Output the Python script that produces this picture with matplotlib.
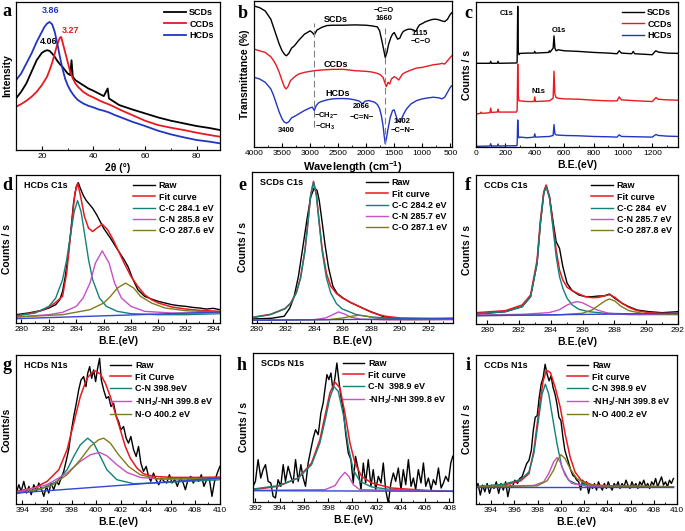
import matplotlib
matplotlib.use("Agg")
import matplotlib.pyplot as plt
from matplotlib.ticker import MultipleLocator

plt.rcParams['font.family'] = ['Liberation Sans', 'DejaVu Sans']
plt.rcParams['mathtext.fontset'] = 'custom'
plt.rcParams['mathtext.rm'] = 'Liberation Sans'
plt.rcParams['mathtext.bf'] = 'Liberation Sans:bold'
plt.rcParams['mathtext.default'] = 'bf'

# ---------------- data ----------------
# (a) XRD
a_x_scd = [10, 12, 14, 16, 18, 20, 21, 22, 23, 24, 25, 26, 27, 28, 29, 30, 31, 31.5, 32, 33, 34, 36, 38, 40, 42, 44, 45.5, 46, 48, 50, 55, 60, 65, 70, 75, 80, 85, 89]
a_y_scd = [155, 175, 200, 235, 270, 292, 297, 300, 298, 290, 280, 268, 258, 250, 240, 230, 225, 270, 220, 210, 205, 195, 185, 178, 170, 162, 185, 155, 145, 135, 122, 110, 98, 88, 80, 72, 66, 60]
a_x_ccd = [10, 12, 14, 16, 18, 20, 22, 23, 24, 25, 26, 27, 27.5, 28, 29, 30, 31, 32, 33, 34, 36, 38, 40, 42, 44, 46, 48, 50, 55, 60, 65, 70, 75, 80, 85, 89]
a_y_ccd = [130, 138, 148, 160, 175, 195, 220, 240, 262, 290, 318, 338, 340, 325, 295, 265, 235, 215, 200, 190, 175, 165, 158, 150, 143, 137, 130, 122, 105, 88, 75, 67, 60, 52, 45, 40]
a_x_hcd = [10, 12, 14, 16, 18, 20, 21, 22, 23, 24, 25, 26, 27, 28, 29, 30, 31, 32, 33, 34, 36, 38, 40, 42, 44, 46, 48, 50, 55, 60, 65, 70, 75, 80, 85, 89]
a_y_hcd = [210, 230, 260, 290, 325, 355, 370, 380, 385, 378, 355, 320, 280, 245, 215, 195, 180, 168, 158, 150, 140, 133, 128, 122, 118, 113, 106, 100, 85, 72, 58, 47, 38, 30, 25, 20]

# (b) FTIR
b_x_scd = [4000, 3900, 3800, 3700, 3650, 3600, 3550, 3500, 3450, 3420, 3380, 3330, 3280, 3200, 3100, 3000, 2960, 2925, 2880, 2850,
           2800, 2700, 2600, 2400, 2200, 2000, 1900, 1800, 1760, 1720, 1690, 1660, 1630, 1600, 1560, 1530, 1500, 1470, 1440, 1400,
           1370, 1340, 1300, 1250, 1200, 1150, 1115, 1080, 1050, 1000, 950, 900, 850, 800, 750, 700, 650, 600, 550, 500, 470]
b_y_scd = [425, 420, 410, 385, 360, 335, 310, 290, 278, 275, 282, 298, 305, 322, 340, 350, 345, 338, 352, 355,
           360, 366, 367, 367, 368, 367, 365, 362, 350, 320, 295, 270, 285, 310, 330, 340, 345, 335, 325, 328,
           340, 348, 352, 355, 355, 352, 348, 360, 368, 372, 377, 380, 383, 385, 385, 383, 380, 378, 385, 400, 405]
b_x_ccd = [4000, 3900, 3800, 3700, 3650, 3600, 3550, 3500, 3460, 3430, 3400, 3350, 3300, 3250, 3200, 3100, 3000, 2925, 2800, 2600,
           2400, 2200, 2000, 1900, 1800, 1750, 1700, 1670, 1640, 1610, 1580, 1550, 1500, 1460, 1420, 1390, 1350, 1300, 1200, 1100,
           1000, 900, 800, 700, 650, 600, 550, 500, 470]
b_y_ccd = [295, 290, 285, 272, 260, 245, 225, 200, 182, 175, 180, 200, 208, 215, 220, 225, 228, 230, 232, 234,
           234, 230, 228, 226, 222, 218, 210, 195, 182, 195, 190, 205, 212, 208, 202, 210, 220, 225, 232, 238,
           240, 244, 248, 250, 252, 250, 260, 270, 275]
b_x_hcd = [4000, 3900, 3800, 3700, 3650, 3600, 3550, 3500, 3460, 3420, 3380, 3330, 3280, 3200, 3100, 3000, 2960, 2925, 2890, 2850,
           2800, 2700, 2600, 2500, 2400, 2300, 2200, 2120, 2066, 2020, 1950, 1850, 1800, 1760, 1730, 1700, 1680, 1660, 1640, 1610,
           1570, 1530, 1500, 1470, 1440, 1402, 1370, 1330, 1280, 1200, 1100, 1000, 900, 800, 700, 650, 600, 550, 500, 470]
b_y_hcd = [210, 205, 195, 175, 155, 130, 105, 85, 75, 72, 76, 88, 92, 100, 110, 118, 120, 110, 125, 133,
           137, 142, 145, 146, 146, 145, 142, 138, 130, 138, 140, 135, 128, 115, 95, 65, 35, 10, 25, 55,
           90, 110, 112, 95, 80, 75, 85, 100, 115, 130, 140, 145, 148, 150, 148, 145, 150, 165, 180, 185]

# (c) XPS survey
c_x_scd = [0, 95, 100, 105, 145, 150, 155, 275, 280, 284, 288, 292, 300, 350, 395, 400, 405, 495, 500, 505,
           525, 531, 537, 545, 560, 600, 700, 800, 900, 960, 975, 990, 1060, 1070, 1080, 1200, 1215, 1225, 1240, 1300, 1375]
c_y_scd = [254, 254, 260, 254, 254, 260, 254, 255, 258, 427, 290, 280, 284, 285, 285, 290, 285, 287, 292, 288,
           300, 337, 300, 292, 295, 292, 290, 287, 285, 283, 292, 285, 283, 290, 283, 280, 288, 292, 288, 285, 284]
c_x_ccd = [0, 30, 35, 40, 95, 100, 105, 145, 150, 155, 275, 280, 284, 288, 292, 300, 350, 395, 400, 405,
           500, 525, 531, 537, 545, 560, 600, 700, 800, 900, 960, 975, 990, 1100, 1200, 1215, 1225, 1240, 1300, 1375]
c_y_ccd = [100, 102, 106, 102, 104, 118, 105, 106, 115, 106, 106, 110, 252, 155, 140, 140, 138, 138, 152, 138,
           140, 148, 230, 160, 150, 148, 146, 145, 142, 140, 140, 152, 143, 140, 138, 145, 150, 145, 143, 142]
c_x_hcd = [0, 95, 100, 105, 145, 150, 155, 275, 280, 284, 288, 292, 300, 350, 395, 400, 405, 500, 525, 531,
           537, 545, 560, 600, 700, 800, 900, 960, 975, 990, 1100, 1200, 1215, 1225, 1240, 1300, 1375]
c_y_hcd = [2, 3, 10, 3, 3, 9, 3, 4, 6, 82, 35, 28, 30, 28, 30, 40, 30, 32, 35, 68,
           40, 37, 36, 35, 34, 32, 31, 30, 37, 32, 31, 30, 35, 38, 35, 33, 32]

# (d) HCDs C1s
d_x_raw = [279.6, 280.5, 281.5, 282.0, 282.5, 282.8, 283.0, 283.2, 283.4, 283.6, 283.8, 284.0, 284.15, 284.3, 284.5, 284.7, 284.9, 285.2, 285.5, 286.0,
           286.5, 287.0, 287.5, 287.8, 288.1, 288.5, 289.0, 289.5, 290.0, 290.5, 291.0, 291.5, 292.0, 292.5, 293.0, 293.5, 294.0, 294.5]
d_y_raw = [25, 30, 38, 45, 55, 70, 95, 140, 200, 275, 360, 410, 422, 405, 385, 370, 360, 345, 325, 285,
           255, 222, 190, 168, 135, 100, 80, 72, 65, 60, 55, 52, 50, 47, 45, 42, 44, 40]
d_x_fit = [279.6, 280.5, 281.5, 282.0, 282.5, 283.0, 283.3, 283.6, 283.9, 284.1, 284.3, 284.6, 284.9, 285.2, 285.5,
           285.9, 286.3, 286.7, 287.1, 287.5, 288.0, 288.5, 289.0, 289.5, 290.0, 291.0, 292.0, 293.0, 294.5]
d_y_fit = [22, 28, 38, 48, 62, 80, 150, 270, 390, 420, 385, 320, 285, 275, 285,
           297, 280, 250, 215, 180, 140, 110, 85, 70, 60, 48, 42, 38, 35]
d_x_cc = [279.6, 281.0, 282.0, 282.5, 283.0, 283.3, 283.6, 283.85, 284.1, 284.35, 284.6, 284.9, 285.2, 285.7, 286.2, 287.0, 288.0, 290.0, 292.0, 294.5]
d_y_cc = [22, 30, 50, 75, 130, 190, 270, 335, 368, 335, 270, 190, 130, 75, 50, 35, 28, 25, 25, 28]
d_x_cn = [279.6, 282.0, 283.0, 284.0, 284.5, 285.0, 285.4, 285.9, 286.4, 286.8, 287.3, 288.0, 289.0, 291.0, 294.5]
d_y_cn = [18, 25, 32, 50, 75, 120, 180, 217, 180, 120, 75, 50, 35, 30, 30]
d_x_co = [279.6, 283.0, 285.0, 286.0, 286.5, 287.0, 287.6, 288.2, 288.7, 289.5, 290.5, 292.0, 294.5]
d_y_co = [18, 25, 40, 60, 80, 105, 120, 105, 80, 60, 45, 37, 32]
d_x_base = [279.6, 294.5]
d_y_base = [13, 33]

# (e) SCDs C1s
e_x_raw = [279.7, 281.0, 281.9, 282.3, 282.6, 282.9, 283.2, 283.49, 283.75, 284.0, 284.2, 284.35, 284.53, 284.75, 285.0, 285.3, 285.6, 286.0, 286.5, 287.0,
           287.5, 288.0, 288.5, 289.0, 290.0, 291.0, 293.7]
e_y_raw = [12, 14, 20, 45, 80, 140, 225, 308, 375, 403, 395, 365, 308, 235, 165, 110, 88, 75, 62, 52,
           42, 33, 25, 16, 13, 12, 14]
e_x_fit = [279.7, 280.95, 281.95, 282.35, 282.75, 283.05, 283.35, 283.55, 283.75, 283.95, 284.15, 284.35, 284.55, 284.85, 285.15, 285.55, 285.95, 286.5, 287.0, 287.5,
           288.0, 288.5, 289.0, 290.0, 293.7]
e_y_fit = [17, 26, 43, 59, 91, 136, 216, 296, 381, 422, 383, 300, 222, 148, 110, 88, 75, 62, 52, 42,
           32, 25, 20, 15, 13]
e_x_cc = [279.7, 280.95, 281.95, 282.35, 282.75, 283.05, 283.35, 283.55, 283.75, 283.95, 284.15, 284.35, 284.55, 284.85, 285.15, 285.55, 285.95, 286.95, 287.95, 290.0, 293.7]
e_y_cc = [16, 25, 42, 58, 90, 135, 215, 295, 380, 420, 380, 295, 215, 135, 90, 58, 42, 25, 18, 13, 12]
e_x_cn = [279.7, 284.0, 284.8, 285.3, 285.7, 286.1, 286.6, 287.3, 289.0, 293.7]
e_y_cn = [8, 10, 15, 25, 33, 27, 17, 11, 9, 10]
e_x_co = [279.7, 285.0, 286.0, 286.6, 287.1, 287.7, 288.3, 289.2, 291.0, 293.7]
e_y_co = [8, 10, 15, 20, 23, 20, 15, 11, 10, 11]
e_x_base = [279.7, 293.7]
e_y_base = [8, 13]

# (f) CCDs C1s
f_x_raw = [279.31, 281.15, 282.2, 282.73, 283.14, 283.35, 283.56, 283.71, 283.92, 284.13, 284.34, 284.55, 284.76, 285.03, 285.35, 285.77, 286.18, 286.6, 287.02, 287.34,
           287.69, 288.03, 288.49, 288.91, 289.43, 290.17, 291.0, 292.0]
f_y_raw = [30, 37, 52, 82, 182, 302, 392, 415, 382, 312, 247, 227, 172, 122, 100, 87, 82, 82, 84, 84,
           90, 77, 62, 52, 42, 37, 34, 37]
f_y_fit = [34, 40, 57, 87, 192, 312, 397, 417, 382, 302, 222, 162, 132, 110, 100, 90, 82, 79, 80, 84,
           88, 80, 62, 50, 40, 34, 32, 32]
f_x_cc = [279.31, 281.15, 282.2, 282.73, 283.14, 283.35, 283.56, 283.71, 283.92, 284.13, 284.34, 284.55, 284.76, 285.03, 285.35, 285.77, 286.39, 287.44, 289.53, 292.0]
f_y_cc = [30, 37, 52, 82, 182, 302, 392, 412, 377, 292, 202, 142, 107, 77, 57, 44, 37, 32, 30, 30]
f_x_cn = [279.31, 282.2, 283.88, 284.51, 285.03, 285.45, 285.66, 285.98, 286.39, 286.92, 287.65, 288.91, 292.0]
f_y_cn = [27, 29, 34, 42, 57, 65, 67, 64, 54, 42, 32, 28, 28]
f_x_co = [279.31, 284.3, 285.97, 286.6, 287.13, 287.44, 287.69, 288.03, 288.39, 288.91, 289.75, 292.0]
f_y_co = [25, 27, 32, 42, 60, 70, 75, 69, 54, 40, 32, 29]
f_x_base = [279.31, 292.0]
f_y_base = [25, 32]

# (g) HCDs N1s
g_x_raw = [393.52, 393.73, 393.92, 394.13, 394.35, 394.54, 394.73, 394.94, 395.16, 395.34,
           395.53, 395.75, 395.96, 396.15, 396.34, 396.55, 396.77, 396.96, 397.15, 397.36,
           397.58, 397.76, 397.95, 398.17, 398.38, 398.57, 398.76, 398.97, 399.16, 399.30,
           399.46, 399.62, 399.78, 399.94, 400.10, 400.26, 400.40, 400.59, 400.80, 400.99,
           401.18, 401.39, 401.61, 401.80, 401.98, 402.20, 402.41, 402.60, 402.79, 403.01,
           403.22, 403.41, 403.60, 403.81, 404.03, 404.22, 404.40, 404.62, 404.83, 405.05,
           405.26, 405.48, 405.69, 405.91, 406.12, 406.34, 406.55, 406.77, 406.98, 407.20,
           407.41, 407.63, 407.84, 408.06, 408.27, 408.49, 408.70, 408.92, 409.13, 409.35,
           409.56, 409.78, 409.99]
g_y_raw = [33, 58, 38, 68, 33, 53, 28, 58, 38, 63,
           48, 23, 53, 33, 63, 43, 68, 58, 78, 98,
           133, 163, 213, 263, 303, 343, 373, 383, 353, 393,
           413, 378, 403, 368, 408, 438, 373, 343, 318, 323,
           293, 303, 263, 248, 223, 233, 198, 183, 203, 163,
           143, 173, 123, 98, 113, 83, 68, 93, 73, 58,
           78, 68, 63, 88, 63, 73, 53, 78, 68, 43,
           73, 83, 63, 78, 68, 88, 53, 73, 78, 23,
           68, 93, 113]
g_x_fit = [393.52, 394.94, 396.02, 396.96, 397.63, 398.17, 398.70, 399.24, 399.65, 399.91, 400.32, 400.73,
           401.13, 401.53, 401.94, 402.34, 402.74, 403.28, 403.81, 404.62, 406.23, 408.38, 409.99]
g_y_fit = [38, 48, 68, 103, 163, 243, 323, 378, 395, 400, 391, 363,
           323, 273, 223, 173, 138, 108, 91, 83, 80, 80, 81]
g_x_cn = [393.52, 395.48, 396.82, 397.63, 398.17, 398.70, 399.30, 399.78, 400.32, 400.85, 401.66, 403.01, 405.69, 409.99]
g_y_cn = [33, 45, 68, 103, 143, 178, 198, 183, 143, 103, 73, 61, 65, 73]
g_x_nh = [393.52, 396.02, 397.63, 398.70, 399.51, 400.26, 400.85, 401.66, 402.47, 403.54, 405.16, 409.99]
g_y_nh = [35, 58, 93, 128, 148, 155, 145, 118, 95, 80, 75, 75]
g_x_no = [393.52, 396.28, 397.63, 398.70, 399.51, 400.18, 400.59, 401.13, 401.80, 402.60, 403.54, 404.89, 409.99]
g_y_no = [31, 53, 88, 133, 173, 193, 198, 183, 148, 113, 88, 76, 76]
g_x_base = [393.52, 409.99]
g_y_base = [33, 78]

# (h) SCDs N1s
h_x_raw = [391.81, 392.0, 392.22, 392.44, 392.63, 392.83, 393.05, 393.27, 393.46, 393.65,
           393.87, 394.09, 394.29, 394.48, 394.70, 394.92, 395.11, 395.31, 395.53, 395.75,
           395.94, 396.13, 396.35, 396.57, 396.77, 396.96, 397.18, 397.40, 397.59, 397.73,
           397.90, 398.06, 398.23, 398.39, 398.56, 398.72, 398.89, 399.05, 399.25, 399.44,
           399.66, 399.88, 400.07, 400.26, 400.48, 400.71, 400.90, 401.09, 401.31, 401.53,
           401.72, 401.92, 402.14, 402.36, 402.55, 402.74, 402.96, 403.18, 403.38, 403.57,
           403.79, 404.01, 404.20, 404.40, 404.62, 404.84, 405.03, 405.22, 405.44, 405.66,
           405.86, 406.05, 406.27, 406.49, 406.68, 406.88, 407.10, 407.32, 407.51, 407.70,
           407.92, 408.12, 408.28]
h_y_raw = [47, 62, 127, 72, 97, 112, 62, 57, 17, 12,
           67, 47, 112, 62, 107, 77, 57, 127, 62, 112,
           72, 47, 117, 157, 192, 217, 202, 267, 297, 337,
           382, 367, 387, 337, 372, 417, 362, 317, 277, 207,
           147, 127, 57, 137, 97, 37, 117, 57, 127, 47,
           97, 37, 77, 57, 117, 37, -3, 57, 87, 62,
           102, 37, 97, 52, 127, 47, 72, 37, 97, 57,
           117, 47, 72, 37, 67, 52, 102, 42, 57, 77,
           62, 117, 137]
h_x_fit = [391.81, 393.87, 395.53, 396.63, 397.32, 397.73, 398.14, 398.56, 398.97, 399.38, 399.80, 400.21, 400.76, 401.59, 403.24, 405.99, 408.28]
h_y_fit = [37, 47, 72, 117, 187, 257, 327, 360, 342, 267, 177, 117, 77, 57, 42, 35, 32]
h_x_cn = [391.81, 393.87, 395.53, 396.63, 397.32, 397.73, 398.14, 398.47, 398.83, 399.25, 399.66, 400.07, 400.62, 401.59, 403.24, 408.28]
h_y_cn = [39, 49, 72, 112, 177, 242, 312, 347, 332, 262, 167, 97, 62, 45, 37, 32]
h_x_nh = [391.81, 397.73, 398.56, 398.97, 399.38, 399.71, 400.07, 400.62, 408.28]
h_y_nh = [35, 37, 49, 72, 89, 77, 52, 37, 32]
h_x_base = [391.81, 408.28]
h_y_base = [34, 32]

# (i) CCDs N1s
i_x_raw = [392.64, 392.87, 393.07, 393.26, 393.46, 393.66, 393.86, 394.06, 394.25, 394.45,
           394.65, 394.85, 395.05, 395.25, 395.44, 395.64, 395.84, 396.04, 396.27, 396.46,
           396.66, 396.86, 397.06, 397.26, 397.46, 397.63, 397.80, 397.97, 398.14, 398.31,
           398.48, 398.65, 398.82, 398.99, 399.16, 399.33, 399.50, 399.67, 399.84, 400.01,
           400.18, 400.35, 400.52, 400.69, 400.86, 401.03, 401.20, 401.37, 401.54, 401.71,
           401.88, 402.05, 402.22, 402.39, 402.56, 402.73, 402.90, 403.07, 403.24, 403.41,
           403.58, 403.75, 403.92, 404.08, 404.25, 404.42, 404.59, 404.76, 404.93, 405.10,
           405.27, 405.44, 405.61, 405.78, 405.95, 406.12, 406.29, 406.46, 406.63, 406.80,
           406.97, 407.14, 407.31, 407.48, 407.65, 407.82, 407.99, 408.16, 408.33, 408.50,
           408.67, 408.84, 409.01, 409.18, 409.35, 409.52, 409.69]
i_y_raw = [42, 62, 27, 57, 37, 62, 32, 57, 47, 67,
           32, 62, 42, 67, 22, 57, 52, 72, 62, 77,
           82, 102, 122, 132, 162, 222, 262, 267, 322, 362,
           382, 422, 392, 372, 387, 352, 332, 302, 262, 252,
           202, 162, 142, 122, 102, 87, 82, 72, 67, 42,
           72, 57, 67, 32, 57, 47, 62, 42, 67, 52,
           42, 62, 47, 67, 52, 42, 62, 52, 67, 47,
           62, 52, 72, 57, 47, 67, 52, 62, 47, 67,
           57, 72, 52, 62, 47, 67, 57, 77, 52, 67,
           82, 57, 67, 52, 72, 62, 77]
i_x_fit = [392.64, 395.13, 396.55, 397.26, 397.68, 398.11, 398.48, 398.76, 399.10, 399.52, 399.95, 400.37, 400.80, 401.22, 401.79, 402.78, 405.05, 409.69]
i_y_fit = [52, 57, 70, 92, 162, 282, 372, 404, 397, 352, 292, 212, 142, 97, 70, 57, 54, 52]
i_x_cn = [392.64, 395.13, 396.55, 397.26, 397.68, 398.11, 398.39, 398.67, 398.96, 399.24, 399.67, 400.09, 400.66, 401.37, 403.63, 409.69]
i_y_cn = [52, 60, 74, 97, 152, 262, 332, 362, 332, 272, 182, 112, 72, 60, 54, 52]
i_x_nh = [392.64, 397.68, 398.53, 398.96, 399.38, 399.67, 399.95, 400.37, 400.94, 402.22, 409.69]
i_y_nh = [52, 56, 67, 92, 127, 140, 127, 87, 62, 54, 52]
i_x_no = [392.64, 397.97, 398.82, 399.38, 399.72, 400.01, 400.37, 400.80, 401.37, 402.22, 403.63, 409.69]
i_y_no = [52, 55, 70, 102, 132, 149, 137, 107, 77, 60, 54, 52]
i_x_base = [392.64, 409.69]
i_y_base = [52, 52]

# ---------------- style ----------------
RED = '#e8191f'
BLUE = '#2235c2'
TEAL = '#13807a'
MAGENTA = '#c84fc8'
OLIVE = '#7f7c1a'
BASE = '#3346d4'

W, H = 685, 531


def box(l, r, t, b):
    return [l / W, 1 - b / H, (r - l) / W, (b - t) / H]


def setup(ax, xlim, ylim, step, xlabel, ylabel):
    ax.set_xlim(*xlim)
    ax.set_ylim(*ylim)
    ax.xaxis.set_major_locator(MultipleLocator(step))
    ax.xaxis.set_minor_locator(MultipleLocator(step / 2))
    ax.tick_params(axis='x', which='major', direction='in', length=3, width=0.8, labelsize=6, pad=2)
    ax.tick_params(axis='x', which='minor', direction='in', length=1.5, width=0.6)
    ax.tick_params(axis='y', which='both', left=False, labelleft=False)
    ax.set_xlabel(xlabel, fontsize=7.5, fontweight='bold', labelpad=2)
    ax.set_ylabel(ylabel, fontsize=7.5, fontweight='bold', labelpad=3)
    for s in ax.spines.values():
        s.set_linewidth(0.9)


def legend(ax, **kw):
    ax.legend(loc='upper right', frameon=False, prop={'weight': 'bold', 'size': 6.5},
              handlelength=2.4, handletextpad=0.4, labelspacing=0.25, borderaxespad=0.3, **kw)


fig = plt.figure(figsize=(6.85, 5.31), dpi=100)

# a
ax = fig.add_axes(box(16, 220, 2, 150))
ax.plot(a_x_scd, a_y_scd, color='black', lw=1.3, label='SCDs')
ax.plot(a_x_ccd, a_y_ccd, color=RED, lw=1.3, label='CCDs')
ax.plot(a_x_hcd, a_y_hcd, color=BLUE, lw=1.3, label='HCDs')
setup(ax, (10, 89), (0, 445), 20, '2θ (°)', 'Intensity')
legend(ax)
ax.text(23.6, 412, '3.86', color=BLUE, fontsize=6.5, fontweight='bold', ha='center')
ax.text(22.5, 318, '4.06', color='black', fontsize=6.5, fontweight='bold', ha='center')
ax.text(31.0, 352, '3.27', color=RED, fontsize=6.5, fontweight='bold', ha='center')

# b
ax = fig.add_axes(box(254, 452, 1, 147))
ax.plot(b_x_scd, b_y_scd, color='black', lw=1)
ax.plot(b_x_ccd, b_y_ccd, color=RED, lw=1)
ax.plot(b_x_hcd, b_y_hcd, color=BLUE, lw=1)
ax.plot([2925, 2925], [60, 375], color='gray', lw=0.8, ls=(0, (6, 3)))
ax.plot([1660, 1660], [10, 360], color='gray', lw=0.8, ls=(0, (6, 3)))
setup(ax, (4000, 470), (0, 440), 500, 'Wavelength (cm$^{-1}$)', 'Transmittance (%)')
ax.xaxis.label.set_size(8)
tk = dict(fontsize=6.5, fontweight='bold', ha='center', va='center')
sk = dict(fontsize=5.5, fontweight='bold', ha='center', va='center')
ax.text(2534, 385, 'SCDs', **tk)
ax.text(2534, 250, 'CCDs', **tk)
ax.text(2504, 160, 'HCDs', **tk)
ax.text(1690, 410, '−C=O', **sk)
ax.text(1678, 386, '1660', **sk)
ax.text(1050, 343, '1115', **sk)
ax.text(1030, 318, '−C−O', **sk)
ax.text(3431, 50, '3400', **sk)
ax.text(2710, 95, '−CH$_2$−', **sk)
ax.text(2730, 60, '−CH$_3$', **sk)
ax.text(2085, 122, '2066', **sk)
ax.text(2085, 90, '−C=N−', **sk)
ax.text(1367, 76, '1402', **sk)
ax.text(1337, 50, '−C−N−', **sk)

# c
ax = fig.add_axes(box(476, 678, 2, 147))
ax.plot(c_x_scd, c_y_scd, color='black', lw=1, label='SCDs')
ax.plot(c_x_ccd, c_y_ccd, color=RED, lw=1, label='CCDs')
ax.plot(c_x_hcd, c_y_hcd, color=BLUE, lw=1, label='HCDs')
setup(ax, (0, 1375), (0, 440), 200, 'B.E.(eV)', 'Counts / s')
legend(ax)
ax.text(211, 404, 'C1s', **sk)
ax.text(564, 354, 'O1s', **sk)
ax.text(427, 167, 'N1s', **sk)


def xps(ax, raw, fit, comps, base, fit_label='Fit curve'):
    ax.plot(*raw, color='black', lw=1, label='Raw')
    ax.plot(*fit, color=RED, lw=1.1, label=fit_label)
    for (x, y, c, lab) in comps:
        ax.plot(x, y, color=c, lw=1, label=lab)
    ax.plot(*base, color=BASE, lw=1)


# d
ax = fig.add_axes(box(16, 220, 175, 323))
xps(ax, (d_x_raw, d_y_raw), (d_x_fit, d_y_fit),
    [(d_x_cc, d_y_cc, TEAL, 'C-C 284.1 eV'), (d_x_cn, d_y_cn, MAGENTA, 'C-N 285.8 eV'),
     (d_x_co, d_y_co, OLIVE, 'C-O 287.6 eV')], (d_x_base, d_y_base))
setup(ax, (279.6, 294.5), (0, 445), 2, 'B.E.(eV)', 'Counts / s')
legend(ax)
ax.text(0.04, 0.93, 'HCDs C1s', transform=ax.transAxes, fontsize=6.5, fontweight='bold', va='center')

# e
ax = fig.add_axes(box(252, 453, 172, 323))
xps(ax, (e_x_raw, e_y_raw), (e_x_fit, e_y_fit),
    [(e_x_cc, e_y_cc, TEAL, 'C-C 284.2 eV'), (e_x_cn, e_y_cn, MAGENTA, 'C-N 285.7 eV'),
     (e_x_co, e_y_co, OLIVE, 'C-O 287.1 eV')], (e_x_base, e_y_base))
setup(ax, (279.65, 293.7), (0, 450), 2, 'B.E.(eV)', 'Counts / s')
legend(ax)
ax.text(0.04, 0.93, 'SCDs C1s', transform=ax.transAxes, fontsize=6.5, fontweight='bold', va='center')

# f
ax = fig.add_axes(box(476, 678, 175, 324))
xps(ax, (f_x_raw, f_y_raw), (f_x_raw, f_y_fit),
    [(f_x_cc, f_y_cc, TEAL, 'C-C 284  eV'), (f_x_cn, f_y_cn, MAGENTA, 'C-N 285.7 eV'),
     (f_x_co, f_y_co, OLIVE, 'C-O 287.8 eV')], (f_x_base, f_y_base))
setup(ax, (279.3, 292), (0, 447), 2, 'B.E.(eV)', 'Counts / s')
legend(ax)
ax.text(0.04, 0.93, 'CCDs C1s', transform=ax.transAxes, fontsize=6.5, fontweight='bold', va='center')

# g
ax = fig.add_axes(box(16, 220, 355, 504))
xps(ax, (g_x_raw, g_y_raw), (g_x_fit, g_y_fit),
    [(g_x_cn, g_y_cn, TEAL, 'C-N 398.9eV'), (g_x_nh, g_y_nh, MAGENTA, '-NH$_2$/-NH 399.8 eV'),
     (g_x_no, g_y_no, OLIVE, 'N-O 400.2 eV')], (g_x_base, g_y_base), fit_label='Fit Curve')
setup(ax, (393.5, 410), (0, 448), 2, 'B.E.(eV)', 'Counts/s')
legend(ax)
ax.text(0.04, 0.93, 'HCDs N1s', transform=ax.transAxes, fontsize=6.5, fontweight='bold', va='center')

# h
ax = fig.add_axes(box(253, 453, 353, 502))
xps(ax, (h_x_raw, h_y_raw), (h_x_fit, h_y_fit),
    [(h_x_cn, h_y_cn, TEAL, 'C-N  398.9 eV'), (h_x_nh, h_y_nh, MAGENTA, '-NH$_2$/-NH 399.8 eV')],
    (h_x_base, h_y_base))
setup(ax, (391.8, 408.3), (0, 447), 2, 'B.E.(eV)', 'Counts / s')
legend(ax)
ax.text(0.04, 0.93, 'SCDs N1s', transform=ax.transAxes, fontsize=6.5, fontweight='bold', va='center')

# i
ax = fig.add_axes(box(476, 677, 355, 504))
xps(ax, (i_x_raw, i_y_raw), (i_x_fit, i_y_fit),
    [(i_x_cn, i_y_cn, TEAL, 'C-N 398.9 eV'), (i_x_nh, i_y_nh, MAGENTA, '-NH$_2$/-NH 399.8 eV'),
     (i_x_no, i_y_no, OLIVE, 'N-O 400.2 eV')], (i_x_base, i_y_base))
setup(ax, (392.7, 410), (0, 450), 2, 'B.E.(eV)', 'Counts / s')
legend(ax)
ax.text(0.04, 0.93, 'CCDs N1s', transform=ax.transAxes, fontsize=6.5, fontweight='bold', va='center')

# panel letters
letters = ['a', 'b', 'c', 'd', 'e', 'f', 'g', 'h', 'i']
letter_xy = [(7, 12), (243, 13), (468, 13), (7, 185), (242, 185), (468, 185), (7, 365), (242, 365), (468, 365)]
for s, (x, y) in zip(letters, letter_xy):
    fig.text(x / W, 1 - y / H, s, fontsize=13, fontweight='bold', family='Liberation Serif',
             ha='center', va='center')

fig.savefig('out.png', dpi=100)
